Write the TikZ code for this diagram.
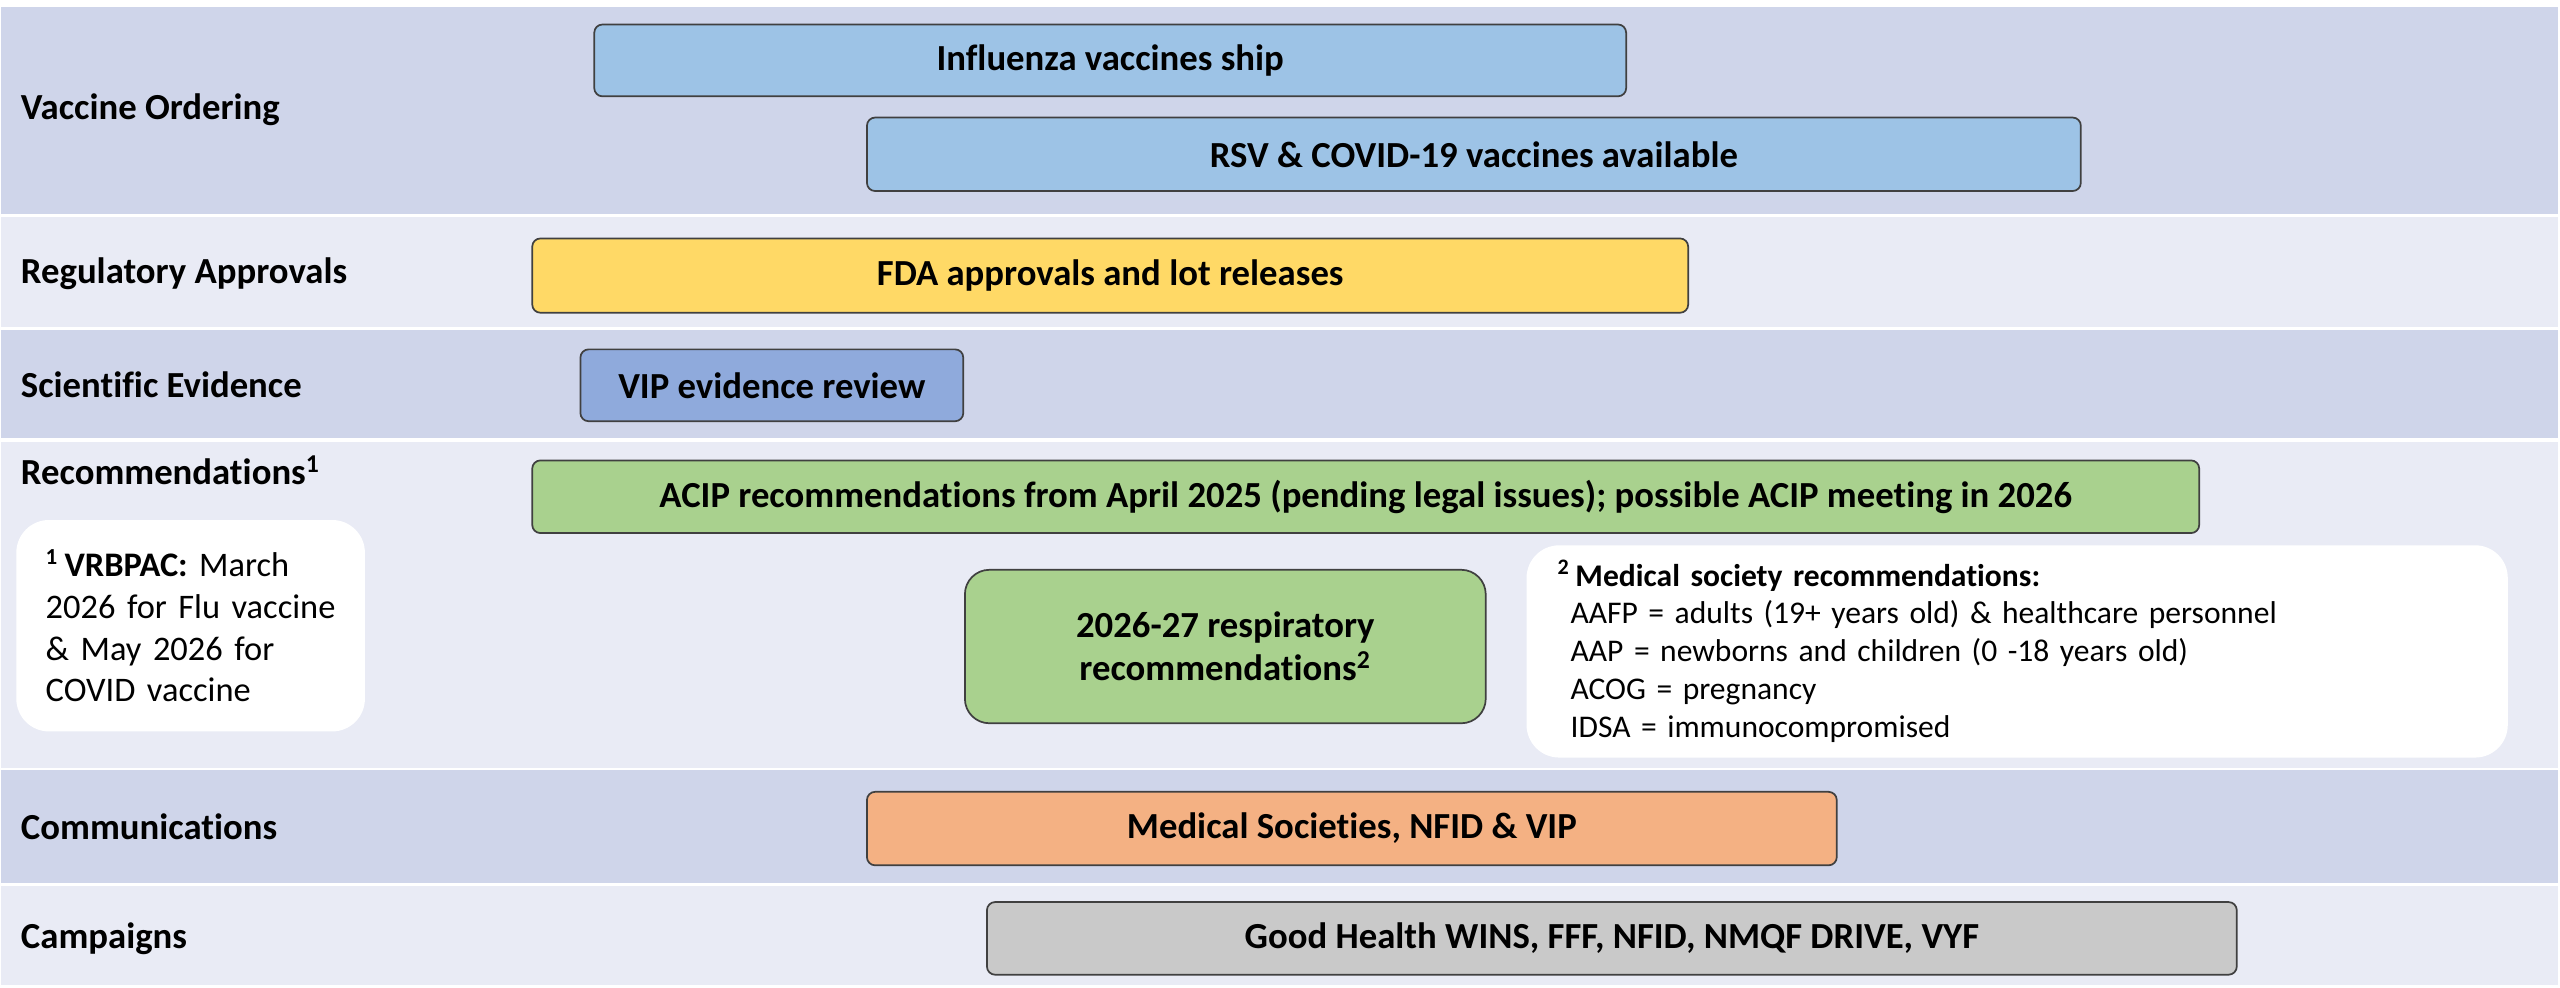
\documentclass[tikz,border=0pt]{standalone}
\usepackage{fontspec}
\setmainfont{Carlito}[Ligatures=NoCommon]

\definecolor{laneA}{HTML}{CFD5EA}
\definecolor{laneB}{HTML}{E9EBF5}
\definecolor{flu}{HTML}{9DC3E6}
\definecolor{fda}{HTML}{FFD966}
\definecolor{vip}{HTML}{8FAADC}
\definecolor{acip}{HTML}{A9D18E}
\definecolor{comm}{HTML}{F4B183}
\definecolor{camp}{HTML}{C9C9C9}

\tikzset{
  bar/.style={draw=black!75, line width=0.6pt, rounded corners=0.1cm, inner sep=0pt,
    align=center, font=\bfseries\fontsize{12.8}{15}\selectfont},
  lane/.style={anchor=base west, inner sep=0pt, font=\bfseries\fontsize{12.8}{15}\selectfont},
  note/.style={fill=white, rounded corners=0.4cm, inner ysep=0pt, align=left},
}

\begin{document}
\begin{tikzpicture}[x=1cm,y=-1cm]
  \useasboundingbox (0,0) rectangle (31.36,12.1);

  % Streifen
  \foreach \ya/\yb/\col in {0.086/2.62/laneA, 2.658/4.006/laneB, 4.04/5.37/laneA,
      5.41/9.41/laneB, 9.43/10.82/laneA, 10.85/12.07/laneB}
    \fill[\col] (0.012,\ya) rectangle (31.34,\yb);

  % Zeilentitel
  \node[lane] (ordering) at (0.25,1.47) {Vaccine Ordering};
  \node[lane] (approvals) at (0.25,3.47) {Regulatory Approvals};
  \node[lane] (evidence) at (0.25,4.87) {Scientific Evidence};
  \node[lane] (recs) at (0.25,5.94) {Recommendations\textsuperscript{1}};
  \node[lane] (comms) at (0.25,10.28) {Communications};
  \node[lane] (campaigns) at (0.25,11.62) {Campaigns};

  % Balken
  \node[bar, fill=flu, minimum width=12.64cm, minimum height=0.88cm] (ship) at (13.6,0.74) {Influenza vaccines ship};
  \node[bar, fill=flu, minimum width=14.87cm, minimum height=0.9cm] (avail) at (18.055,1.89) {RSV \& COVID-19 vaccines available};
  \node[bar, fill=fda, minimum width=14.16cm, minimum height=0.91cm] (lots) at (13.6,3.376) {FDA approvals and lot releases};
  \node[bar, fill=vip, minimum width=4.69cm, minimum height=0.88cm] (review) at (9.455,4.72) {VIP evidence review};
  \node[bar, fill=acip, minimum width=20.42cm, minimum height=0.89cm] (acip) at (16.73,6.085)
    {ACIP recommendations from April 2025 (pending legal issues); possible ACIP meeting in 2026};
  \node[bar, fill=acip, rounded corners=0.3cm, minimum width=6.38cm, minimum height=1.88cm] (resp) at (15.01,7.92)
    {2026-27 respiratory\\recommendations\textsuperscript{2}};
  \node[bar, fill=comm, minimum width=11.88cm, minimum height=0.9cm] (societies) at (16.56,10.15) {Medical Societies, NFID \& VIP};
  \node[bar, fill=camp, minimum width=15.31cm, minimum height=0.89cm] (wins) at (19.745,11.495) {Good Health WINS, FFF, NFID, NMQF DRIVE, VYF};

  % Fussnoten
  \node[note, inner xsep=0.36cm, text width=3.55cm, minimum height=2.59cm,
    font=\fontsize{12}{14.5}\selectfont] (vrbpac) at (2.335,7.665)
    {\textbf{\textsuperscript{1}\,VRBPAC:} March\\2026 for Flu vaccine\\\& May 2026 for\\COVID vaccine};
  \node[note, inner xsep=0.38cm, text width=11.26cm, minimum height=2.6cm,
    font=\fontsize{11}{13.2}\selectfont] (society) at (24.71,7.98)
    {\textbf{\textsuperscript{2}\,Medical society recommendations:}\\
     \hspace*{0.16cm}AAFP = adults (19+ years old) \& healthcare personnel\\
     \hspace*{0.16cm}AAP = newborns and children (0 -18 years old)\\
     \hspace*{0.16cm}ACOG = pregnancy\\
     \hspace*{0.16cm}IDSA = immunocompromised};
\end{tikzpicture}
\end{document}
